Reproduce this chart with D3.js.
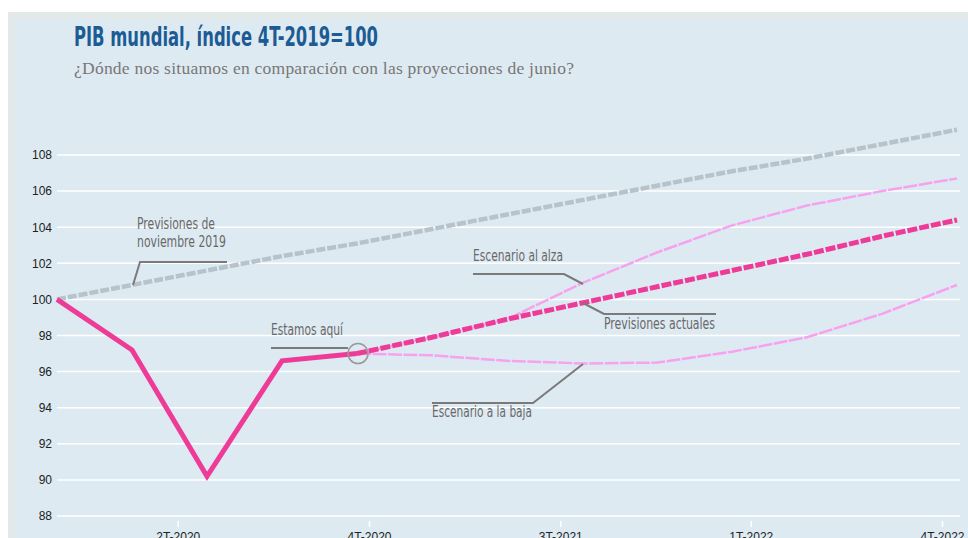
<!DOCTYPE html>
<html>
<head>
<meta charset="utf-8">
<script src="https://cdn.jsdelivr.net/npm/d3@7"></script>
<style>
  html, body { margin: 0; padding: 0; background: #fff; }
  svg { display: block; }
  .note { font-family: "DejaVu Sans Condensed", "Liberation Sans Narrow", "DejaVu Sans", sans-serif; font-stretch: condensed; font-size: 16px; fill: #686868; }
  .axis text { font-family: "Liberation Sans", Arial, sans-serif; font-size: 12px; fill: #222; }
</style>
</head>
<body>
<div id="chart"></div>
<script>
// quarters, index 0 = 4T-2019
const quarters = ["4T-2019", "1T-2020", "2T-2020", "3T-2020", "4T-2020", "1T-2021", "2T-2021",
  "3T-2021", "4T-2021", "1T-2022", "2T-2022", "3T-2022", "4T-2022"];

const novForecast = [100, 100.8, 101.6, 102.4, 103.1, 103.9, 104.7, 105.5, 106.3, 107.1, 107.8, 108.6, 109.4];
const observed = [100, 97.2, 90.2, 96.6, 97.0, null, null, null, null, null, null, null, null];
const currentForecast = [null, null, null, null, 97.0, 97.9, 98.9, 99.8, 100.7, 101.6, 102.5, 103.5, 104.4];
const upside = [null, null, null, null, 97.0, 97.9, 98.9, 100.9, 102.6, 104.1, 105.2, 106.0, 106.7];
const downside = [null, null, null, null, 97.0, 96.9, 96.6, 96.45, 96.5, 97.1, 97.9, 99.2, 100.8];

const yTicks = [88, 90, 92, 94, 96, 98, 100, 102, 104, 106, 108];
// axis ticks sit between quarters in the original
const xTickAt = [1.61, 4.16, 6.71, 9.25, 11.8];
const xTickLabels = ["2T-2020", "4T-2020", "3T-2021", "1T-2022", "4T-2022"];

const title = "PIB mundial, índice 4T-2019=100";
const subtitle = "¿Dónde nos situamos en comparación con las proyecciones de junio?";

const width = 968, height = 538;

const svg = d3.select("#chart").append("svg")
  .attr("width", width)
  .attr("height", height);

// frame + panel
svg.append("rect").attr("x", 8).attr("y", 12).attr("width", width - 8).attr("height", height - 12).attr("fill", "#e3e8e8");
svg.append("rect").attr("x", 15).attr("y", 19).attr("width", width - 15).attr("height", height - 19).attr("fill", "#deeaf2");

// the original uses a condensed face: squeeze to the width it takes there
svg.append("text")
  .attr("x", 74).attr("y", 46)
  .attr("font-family", "'DejaVu Sans Condensed', 'Liberation Sans Narrow', 'DejaVu Sans', sans-serif")
  .attr("font-weight", "bold")
  .attr("font-size", 26)
  .attr("fill", "#1c5b94")
  .attr("textLength", 304)
  .attr("lengthAdjust", "spacingAndGlyphs")
  .text(title);

svg.append("text")
  .attr("x", 74).attr("y", 74)
  .attr("font-family", "'Liberation Serif', 'Times New Roman', serif")
  .attr("font-size", 17.5)
  .attr("fill", "#777")
  .attr("textLength", 500)
  .attr("lengthAdjust", "spacing")
  .text(subtitle);

const x = d3.scaleLinear().domain([0, quarters.length - 1]).range([57, 957]);
const y = d3.scaleLinear().domain([88, 108]).range([516, 155]);

// grid
svg.append("g")
  .selectAll("line")
  .data(yTicks)
  .join("line")
  .attr("x1", 57).attr("x2", 960)
  .attr("y1", d => y(d)).attr("y2", d => y(d))
  .attr("stroke", "#fff")
  .attr("stroke-width", 1.5);

const gY = svg.append("g").attr("class", "axis")
  .attr("transform", "translate(52,0)")
  .call(d3.axisLeft(y).tickValues(yTicks).tickSize(0).tickPadding(0));
gY.select(".domain").remove();

const gX = svg.append("g").attr("class", "axis")
  .attr("transform", "translate(0,521)")
  .call(d3.axisBottom(x).tickValues(xTickAt).tickSize(6).tickPadding(5)
    .tickFormat((d, i) => xTickLabels[i]));
gX.select(".domain").remove();
gX.selectAll(".tick line").attr("stroke", "#fff").attr("stroke-width", 1.5);

const line = d3.line()
  .defined(d => d != null)
  .x((d, i) => x(i))
  .y(d => y(d));

const series = [
  { values: novForecast, color: "#b7c3cb", width: 4.5, dash: "9,2" },
  { values: downside, color: "#f7a2ee", width: 2.5, dash: "14,1.5" },
  { values: upside, color: "#f7a2ee", width: 2.5, dash: "14,1.5" },
  { values: currentForecast, color: "#ee3b98", width: 5, dash: "10,2" },
  { values: observed, color: "#ee3b98", width: 5, dash: null },
];

svg.append("g")
  .selectAll("path")
  .data(series)
  .join("path")
  .attr("d", d => line(d.values))
  .attr("fill", "none")
  .attr("stroke", d => d.color)
  .attr("stroke-width", d => d.width)
  .attr("stroke-dasharray", d => d.dash)
  .attr("stroke-linejoin", "miter");

// "estamos aquí" marker on the last observed quarter
svg.append("circle")
  .attr("cx", x(4) + 1).attr("cy", y(observed[4]))
  .attr("r", 10)
  .attr("fill", "none")
  .attr("stroke", "#999")
  .attr("stroke-width", 1.5);

// annotations: leader paths in pixels, widths as in the original
const notes = [
  { lines: ["Previsiones de", "noviembre 2019"], widths: [78, 89], tx: 137, ty: 229, path: "M227,262H140L133,285" },
  { lines: ["Estamos aquí"], widths: [72], tx: 271, ty: 335, path: "M271,348H348" },
  { lines: ["Escenario al alza"], widths: [90], tx: 473, ty: 261, path: "M473,274H564L583,284" },
  { lines: ["Previsiones actuales"], widths: [111], tx: 604, ty: 329, path: "M583,303L604,314H716" },
  { lines: ["Escenario a la baja"], widths: [100], tx: 432, ty: 417, path: "M432,403H533L583,364" },
];

const gNotes = svg.append("g");
notes.forEach(n => {
  gNotes.append("path")
    .attr("d", n.path)
    .attr("fill", "none")
    .attr("stroke", "#7a7a7a")
    .attr("stroke-width", 2);
  n.lines.forEach((l, i) => {
    gNotes.append("text").attr("class", "note")
      .attr("x", n.tx).attr("y", n.ty + i * 18)
      .attr("textLength", n.widths[i])
      .attr("lengthAdjust", "spacingAndGlyphs")
      .text(l);
  });
});
</script>
</body>
</html>
